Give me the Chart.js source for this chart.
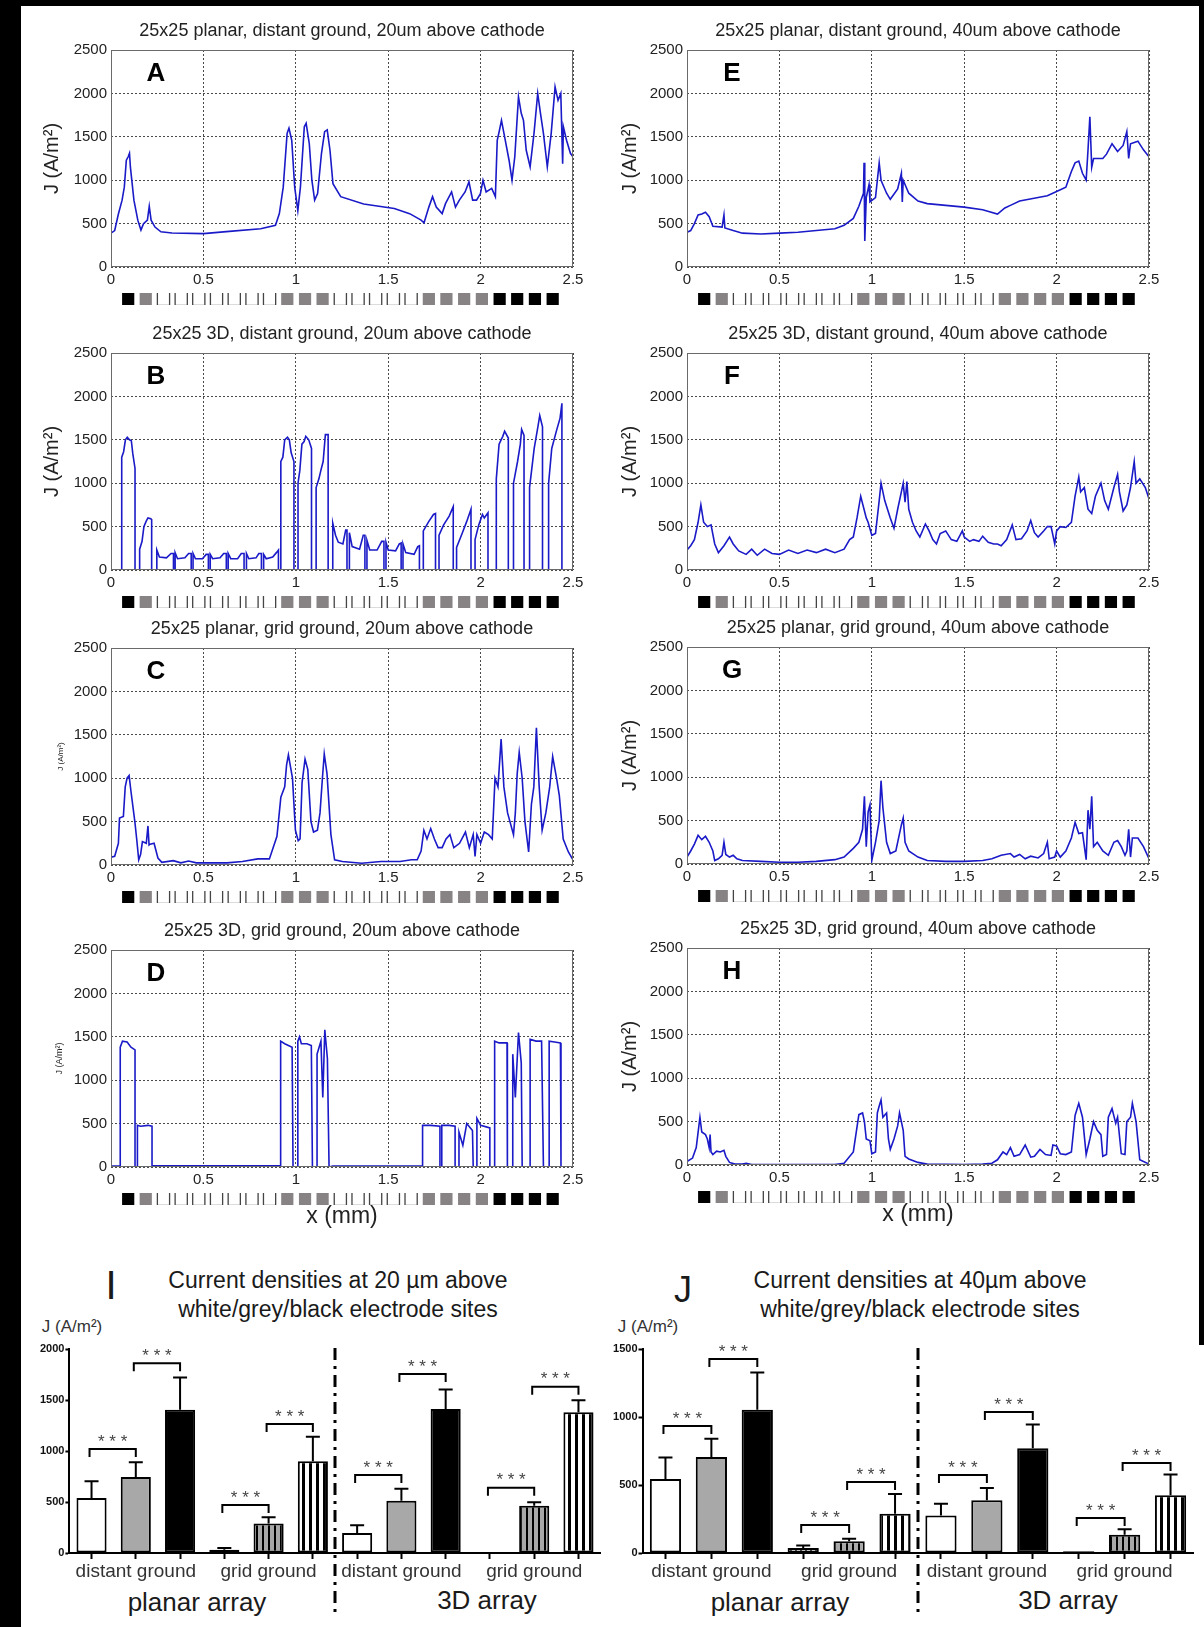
<!DOCTYPE html>
<html>
<head>
<meta charset="utf-8">
<script src="https://cdn.jsdelivr.net/npm/chart.js@4.4.0/dist/chart.umd.min.js"></script>
<style>
  body { margin: 0; background: #fff; width: 1204px; height: 1627px; position: relative; overflow: hidden;
         font-family: "Liberation Sans", Arial, sans-serif; }
  canvas { position: absolute; }
  .t { position: absolute; transform: translate(-50%, -50%); white-space: nowrap; color: #1a1a1a; }
  .edge { position: absolute; background: #000; }
</style>
</head>
<body>
<div class="edge" style="left:0;top:0;width:21px;height:1627px"></div>
<div class="edge" style="left:0;top:0;width:1204px;height:6px"></div>
<div class="edge" style="left:1199px;top:0;width:5px;height:1345px"></div>

<div class="t" style="left:338px;top:1280px;font-size:23px">Current densities at 20 µm above</div>
<div class="t" style="left:338px;top:1309px;font-size:23px">white/grey/black electrode sites</div>
<div class="t" style="left:920px;top:1280px;font-size:23px">Current densities at 40µm above</div>
<div class="t" style="left:920px;top:1309px;font-size:23px">white/grey/black electrode sites</div>
<div class="t" style="left:111px;top:1285px;font-size:40px">I</div>
<div class="t" style="left:683px;top:1290px;font-size:36px">J</div>
<div class="t" style="left:72px;top:1327px;font-size:17px;color:#333">J (A/m²)</div>
<div class="t" style="left:648px;top:1327px;font-size:17px;color:#333">J (A/m²)</div>
<div class="t" style="left:197px;top:1602px;font-size:26px">planar array</div>
<div class="t" style="left:487px;top:1600px;font-size:26px">3D array</div>
<div class="t" style="left:780px;top:1602px;font-size:26px">planar array</div>
<div class="t" style="left:1068px;top:1600px;font-size:26px">3D array</div>

<script>
// ---- data ----
// electrode sites along the line scan (mm) and their kind
const siteX = [0.093, 0.188, 0.284, 0.380, 0.475, 0.571, 0.667, 0.763, 0.858, 0.954, 1.050, 1.145, 1.241,
               1.337, 1.432, 1.528, 1.624, 1.720, 1.815, 1.911, 2.007, 2.103, 2.198, 2.294, 2.390];
const siteKind = ['black', 'grey', 'white', 'white', 'white', 'white', 'white', 'white', 'white', 'grey', 'grey', 'grey',
                  'white', 'white', 'white', 'white', 'white', 'grey', 'grey', 'grey', 'grey', 'black', 'black', 'black', 'black'];
const siteW = 0.066;

// current density J (A/m^2) vs x (mm)
const curveA = [[0,390],[0.02,420],[0.04,610],[0.06,770],[0.072,920],[0.083,1230],[0.093,1270],[0.1,1310],[0.105,1150],[0.124,770],[0.145,540],[0.162,425],[0.176,500],[0.197,540],[0.207,700],[0.217,540],[0.238,460],[0.27,405],[0.33,392],[0.5,385],[0.64,410],[0.81,440],[0.89,480],[0.911,615],[0.932,920],[0.953,1540],[0.963,1600],[0.978,1460],[0.994,920],[1.011,650],[1.025,920],[1.046,1615],[1.056,1655],[1.073,1420],[1.087,1000],[1.102,770],[1.118,845],[1.139,1310],[1.156,1560],[1.17,1580],[1.185,1345],[1.201,960],[1.243,810],[1.367,725],[1.533,675],[1.616,615],[1.678,540],[1.694,510],[1.72,690],[1.74,810],[1.76,690],[1.792,615],[1.81,730],[1.843,865],[1.864,690],[1.885,770],[1.916,865],[1.937,980],[1.957,770],[1.978,770],[1.999,845],[2.013,1000],[2.03,865],[2.06,905],[2.08,810],[2.09,1460],[2.102,1575],[2.113,1690],[2.13,1500],[2.154,1230],[2.17,1000],[2.185,1270],[2.205,1960],[2.22,1770],[2.232,1690],[2.247,1345],[2.268,1155],[2.289,1540],[2.309,2000],[2.324,1770],[2.34,1540],[2.361,1155],[2.382,1540],[2.403,2075],[2.419,1920],[2.434,2000],[2.444,1190],[2.448,1615],[2.465,1460],[2.486,1310],[2.5,1270]];

const curveB = [[0,0],[0.058,0],[0.058,1300],[0.068,1360],[0.078,1500],[0.088,1530],[0.1,1500],[0.11,1490],[0.118,1340],[0.13,1170],[0.13,0],
  [0.155,0],[0.155,240],[0.168,330],[0.178,500],[0.19,560],[0.2,600],[0.215,590],[0.22,580],[0.22,0],
  [0.248,0],[0.248,230],[0.262,150],[0.3,140],[0.325,190],[0.338,190],[0.338,0],
  [0.347,0],[0.347,200],[0.36,130],[0.4,140],[0.42,190],[0.434,190],[0.434,0],
  [0.444,0],[0.444,190],[0.457,130],[0.495,130],[0.515,180],[0.527,180],[0.527,0],
  [0.537,0],[0.537,180],[0.55,130],[0.59,140],[0.61,190],[0.624,190],[0.624,0],
  [0.634,0],[0.634,190],[0.648,130],[0.685,130],[0.705,190],[0.72,190],[0.72,0],
  [0.733,0],[0.733,190],[0.746,130],[0.785,140],[0.8,190],[0.814,190],[0.814,0],
  [0.826,0],[0.826,180],[0.84,130],[0.875,150],[0.895,200],[0.906,230],[0.906,0],
  [0.919,0],[0.919,1250],[0.93,1300],[0.94,1500],[0.955,1530],[0.965,1500],[0.975,1350],[0.99,1250],[0.99,0],
  [1.012,0],[1.012,1000],[1.022,1150],[1.033,1450],[1.045,1480],[1.054,1540],[1.07,1500],[1.085,1400],[1.085,0],
  [1.11,0],[1.11,950],[1.125,1050],[1.136,1150],[1.148,1250],[1.16,1560],[1.175,1560],[1.175,0],
  [1.2,0],[1.2,540],[1.215,400],[1.23,320],[1.255,300],[1.27,460],[1.277,460],[1.277,0],
  [1.29,0],[1.29,430],[1.305,270],[1.345,240],[1.365,400],[1.374,400],[1.374,0],
  [1.385,0],[1.385,340],[1.4,230],[1.44,230],[1.465,330],[1.477,330],[1.477,0],
  [1.488,0],[1.488,320],[1.5,230],[1.54,220],[1.56,300],[1.57,310],[1.57,0],
  [1.58,0],[1.58,300],[1.595,200],[1.64,180],[1.66,270],[1.669,280],[1.669,0],
  [1.69,0],[1.69,450],[1.72,560],[1.745,640],[1.756,650],[1.756,0],
  [1.775,0],[1.775,400],[1.8,520],[1.83,620],[1.852,730],[1.852,0],
  [1.87,0],[1.87,260],[1.9,420],[1.925,560],[1.948,700],[1.948,0],
  [1.97,0],[1.97,350],[1.99,520],[2.01,640],[2.02,600],[2.04,660],[2.04,0],
  [2.085,0],[2.085,1050],[2.1,1450],[2.12,1540],[2.13,1600],[2.15,1520],[2.15,0],
  [2.178,0],[2.178,1000],[2.2,1250],[2.215,1450],[2.222,1620],[2.235,1550],[2.235,0],
  [2.265,0],[2.265,950],[2.29,1400],[2.31,1650],[2.32,1780],[2.335,1650],[2.335,0],
  [2.368,0],[2.368,1000],[2.385,1400],[2.41,1600],[2.43,1750],[2.44,1920],[2.44,0],[2.5,0]];

const curveC = [[0,90],[0.02,100],[0.04,250],[0.046,540],[0.067,560],[0.077,900],[0.087,1000],[0.098,1030],[0.108,850],[0.129,500],[0.139,300],[0.15,60],[0.16,120],[0.17,270],[0.191,250],[0.2,450],[0.206,230],[0.212,240],[0.233,250],[0.254,80],[0.275,30],[0.337,50],[0.378,25],[0.42,45],[0.462,25],[0.628,25],[0.711,40],[0.794,70],[0.857,70],[0.898,330],[0.919,780],[0.94,900],[0.95,1150],[0.96,1270],[0.982,1000],[0.998,400],[1.013,280],[1.023,300],[1.034,950],[1.05,1220],[1.065,1100],[1.082,500],[1.096,380],[1.117,400],[1.131,600],[1.144,1000],[1.154,1280],[1.169,1050],[1.19,350],[1.21,60],[1.252,40],[1.356,20],[1.46,40],[1.564,40],[1.626,60],[1.657,60],[1.678,160],[1.693,400],[1.71,300],[1.73,420],[1.75,300],[1.77,200],[1.792,200],[1.813,300],[1.834,350],[1.855,200],[1.886,250],[1.918,380],[1.939,200],[1.96,350],[1.97,100],[1.98,350],[2.0,250],[2.02,380],[2.043,350],[2.063,300],[2.078,1000],[2.094,900],[2.111,1450],[2.126,900],[2.146,600],[2.178,350],[2.188,600],[2.198,1050],[2.209,1300],[2.225,1000],[2.24,500],[2.26,150],[2.275,700],[2.288,900],[2.302,1580],[2.317,900],[2.333,400],[2.353,600],[2.374,900],[2.39,1250],[2.411,1000],[2.426,800],[2.447,300],[2.475,150],[2.5,60]];

const curveD = [[0,10],[0.05,10],[0.05,1380],[0.062,1450],[0.087,1440],[0.108,1380],[0.13,1350],[0.13,0],[0.143,0],[0.143,480],[0.16,470],[0.2,480],[0.222,470],[0.222,0],[0.23,15],[0.5,15],[0.7,15],[0.918,15],[0.918,1450],[0.94,1420],[0.96,1400],[0.98,1380],[0.985,0],[1.011,0],[1.011,1450],[1.02,1500],[1.03,1420],[1.06,1420],[1.084,1400],[1.09,0],[1.115,0],[1.115,1300],[1.136,1450],[1.146,800],[1.157,1580],[1.171,1250],[1.18,0],[1.2,10],[1.5,10],[1.686,10],[1.686,480],[1.73,480],[1.78,470],[1.78,0],[1.79,0],[1.79,480],[1.83,480],[1.862,470],[1.862,0],[1.883,0],[1.883,400],[1.904,250],[1.925,500],[1.956,420],[1.96,0],[1.98,0],[1.98,560],[2.0,480],[2.05,450],[2.05,0],[2.076,0],[2.076,1450],[2.1,1430],[2.143,1430],[2.145,0],[2.174,0],[2.174,1300],[2.188,800],[2.205,1550],[2.22,1200],[2.225,0],[2.268,0],[2.268,1470],[2.3,1450],[2.33,1450],[2.34,0],[2.371,0],[2.371,1450],[2.4,1440],[2.432,1430],[2.435,0],[2.5,0]];

const curveE = [[0,400],[0.02,420],[0.04,500],[0.06,600],[0.08,610],[0.1,630],[0.12,580],[0.14,470],[0.19,460],[0.2,600],[0.205,450],[0.25,420],[0.3,390],[0.4,380],[0.5,390],[0.6,400],[0.7,420],[0.8,440],[0.85,480],[0.9,560],[0.93,700],[0.955,850],[0.958,1200],[0.962,300],[0.97,800],[0.985,950],[0.99,750],[1.02,800],[1.04,1200],[1.05,1000],[1.08,850],[1.1,780],[1.14,900],[1.16,1080],[1.165,750],[1.17,1000],[1.2,850],[1.25,760],[1.3,730],[1.4,710],[1.5,690],[1.6,660],[1.68,610],[1.72,680],[1.75,710],[1.8,760],[1.85,780],[1.9,800],[1.95,820],[2.0,870],[2.05,920],[2.08,1100],[2.1,1200],[2.12,1220],[2.14,1080],[2.16,1000],[2.17,1350],[2.18,1730],[2.19,1150],[2.2,1250],[2.25,1250],[2.27,1300],[2.3,1420],[2.33,1330],[2.36,1400],[2.38,1560],[2.39,1250],[2.4,1420],[2.44,1450],[2.47,1350],[2.5,1270]];

const curveF = [[0,230],[0.02,280],[0.04,350],[0.06,550],[0.075,750],[0.09,550],[0.11,500],[0.13,520],[0.15,300],[0.17,200],[0.2,280],[0.23,380],[0.25,300],[0.28,220],[0.32,180],[0.35,240],[0.38,170],[0.42,240],[0.46,190],[0.5,180],[0.55,230],[0.6,190],[0.65,230],[0.7,200],[0.75,240],[0.8,200],[0.85,240],[0.88,350],[0.9,380],[0.92,600],[0.94,850],[0.97,600],[0.98,550],[1.0,400],[1.02,420],[1.04,800],[1.05,1000],[1.07,800],[1.1,600],[1.12,480],[1.14,700],[1.16,900],[1.17,1000],[1.18,780],[1.19,1020],[1.2,700],[1.22,550],[1.24,450],[1.26,380],[1.29,530],[1.31,450],[1.33,350],[1.35,300],[1.37,420],[1.4,450],[1.43,350],[1.46,330],[1.49,450],[1.5,380],[1.53,330],[1.55,350],[1.58,330],[1.6,390],[1.63,320],[1.66,300],[1.68,300],[1.7,280],[1.73,350],[1.76,520],[1.78,350],[1.81,360],[1.84,450],[1.86,570],[1.88,430],[1.9,380],[1.93,450],[1.95,500],[1.97,500],[1.99,300],[2.0,450],[2.02,500],[2.05,490],[2.08,550],[2.1,850],[2.12,1070],[2.13,900],[2.15,950],[2.17,700],[2.19,650],[2.21,850],[2.24,1000],[2.26,800],[2.28,700],[2.31,950],[2.33,1100],[2.34,900],[2.36,680],[2.38,750],[2.4,950],[2.42,1250],[2.43,1000],[2.45,1050],[2.48,950],[2.5,820]];

const curveG = [[0,80],[0.02,150],[0.04,230],[0.06,330],[0.08,280],[0.1,320],[0.12,250],[0.14,150],[0.15,40],[0.17,60],[0.19,100],[0.2,250],[0.21,110],[0.23,80],[0.25,100],[0.27,60],[0.3,40],[0.4,30],[0.5,20],[0.6,20],[0.7,30],[0.8,50],[0.85,80],[0.9,180],[0.93,250],[0.95,400],[0.96,780],[0.97,200],[0.98,600],[0.99,680],[1.0,40],[1.02,250],[1.04,500],[1.05,960],[1.06,650],[1.08,250],[1.1,120],[1.13,150],[1.16,450],[1.17,530],[1.18,250],[1.2,150],[1.25,80],[1.3,40],[1.4,30],[1.5,30],[1.6,40],[1.65,60],[1.7,100],[1.75,120],[1.77,80],[1.8,110],[1.83,60],[1.86,90],[1.9,70],[1.93,120],[1.95,250],[1.96,60],[1.99,80],[2.0,150],[2.02,80],[2.05,150],[2.08,300],[2.1,480],[2.12,350],[2.14,360],[2.16,50],[2.17,620],[2.18,400],[2.19,780],[2.2,200],[2.22,250],[2.25,150],[2.28,100],[2.31,250],[2.33,270],[2.35,200],[2.37,100],[2.38,150],[2.39,400],[2.4,80],[2.41,300],[2.44,300],[2.47,200],[2.5,60]];

const curveH = [[0,40],[0.03,80],[0.05,200],[0.07,550],[0.08,380],[0.1,350],[0.11,300],[0.12,200],[0.125,350],[0.13,150],[0.14,120],[0.16,160],[0.18,150],[0.2,170],[0.21,100],[0.23,30],[0.26,10],[0.3,10],[0.32,20],[0.35,5],[0.5,5],[0.8,5],[0.85,20],[0.9,150],[0.93,580],[0.95,600],[0.96,500],[0.97,300],[0.99,280],[1.0,130],[1.02,150],[1.03,600],[1.04,680],[1.05,750],[1.06,550],[1.08,600],[1.09,300],[1.1,180],[1.12,300],[1.14,450],[1.15,600],[1.17,400],[1.18,100],[1.2,70],[1.25,30],[1.3,10],[1.5,5],[1.6,10],[1.65,20],[1.68,60],[1.71,150],[1.73,120],[1.75,200],[1.77,100],[1.8,120],[1.83,230],[1.86,90],[1.88,100],[1.91,180],[1.94,120],[1.97,110],[1.98,230],[2.0,220],[2.02,130],[2.05,120],[2.08,150],[2.1,570],[2.12,710],[2.14,550],[2.16,120],[2.18,300],[2.2,500],[2.22,400],[2.24,350],[2.25,100],[2.27,120],[2.28,550],[2.3,650],[2.32,480],[2.33,550],[2.35,130],[2.37,120],[2.38,500],[2.4,550],[2.41,710],[2.43,500],[2.45,60],[2.5,10]];

// bar charts I (20 um) and J (40 um): white / grey / black sites
const barLabels = ['', 'distant ground', '', '', 'grid ground', '', '', 'distant ground', '', '', 'grid ground', ''];
const meanI = [540, 745, 1405, 33, 288, 900, 196, 513, 1412, 8, 464, 1380];
const sdI = [163, 145, 315, 15, 62, 240, 75, 118, 190, 0, 33, 117];
const bracketI = [1020, 1860, 470, 1265, 765, 1755, 640, 1630];
const meanJ = [544, 706, 1054, 37, 86, 289, 275, 387, 770, 12, 135, 424];
const sdJ = [159, 134, 274, 19, 19, 145, 88, 91, 174, 0, 39, 154];
const bracketJ = [934, 1426, 206, 522, 573, 1037, 257, 662];

// ---- drawing ----
const FONT = '"Liberation Sans", Arial, sans-serif';
Chart.defaults.font.family = FONT;
Chart.defaults.animation = false;
const plain = v => String(v);

function addCanvas(left, top, w, h) {
  const c = document.createElement('canvas');
  c.width = w; c.height = h;
  c.style.left = left + 'px'; c.style.top = top + 'px';
  document.body.appendChild(c);
  return c;
}

const framePlugin = {
  id: 'frame',
  afterDraw(chart) {
    const {ctx, chartArea: a, scales: {x}} = chart;
    const o = chart.config.options.frame;
    ctx.save();
    ctx.strokeStyle = '#6a6a6a'; ctx.lineWidth = 1;
    ctx.strokeRect(a.left + 0.5, a.top + 0.5, a.width - 1, a.height - 1);
    ctx.fillStyle = '#000';
    ctx.font = 'bold 26px ' + FONT;
    ctx.textAlign = 'center'; ctx.textBaseline = 'middle';
    ctx.fillText(o.letter, a.left + 45, a.top + 24);
    // electrode strip under the x axis
    const top = a.bottom + 26, h = 12;
    siteX.forEach((c, i) => {
      const l = x.getPixelForValue(c - siteW / 2), r = x.getPixelForValue(c + siteW / 2);
      const k = siteKind[i];
      if (k === 'white') {
        ctx.strokeStyle = '#dcdcdc'; ctx.lineWidth = 1;
        ctx.beginPath(); ctx.moveTo(l, top + h - 0.5); ctx.lineTo(r, top + h - 0.5); ctx.stroke();
        ctx.strokeStyle = '#444'; ctx.lineWidth = 1.3;
        ctx.beginPath(); ctx.moveTo(l, top); ctx.lineTo(l, top + h); ctx.moveTo(r, top); ctx.lineTo(r, top + h); ctx.stroke();
      } else {
        ctx.fillStyle = k === 'black' ? '#000' : '#878283';
        ctx.fillRect(l, top, r - l, h);
      }
    });
    ctx.restore();
  }
};

const panels = [
  {letter: 'A', title: '25x25 planar, distant ground, 20um above cathode', curve: curveA, col: 0, top: 50, yt: 20},
  {letter: 'B', title: '25x25 3D, distant ground, 20um above cathode', curve: curveB, col: 0, top: 353, yt: 20},
  {letter: 'C', title: '25x25 planar, grid ground, 20um above cathode', curve: curveC, col: 0, top: 648, yt: 8},
  {letter: 'D', title: '25x25 3D, grid ground, 20um above cathode', curve: curveD, col: 0, top: 950, yt: 9, xTitle: true},
  {letter: 'E', title: '25x25 planar, distant ground, 40um above cathode', curve: curveE, col: 1, top: 50, yt: 20},
  {letter: 'F', title: '25x25 3D, distant ground, 40um above cathode', curve: curveF, col: 1, top: 353, yt: 20},
  {letter: 'G', title: '25x25 planar, grid ground, 40um above cathode', curve: curveG, col: 1, top: 647, yt: 20},
  {letter: 'H', title: '25x25 3D, grid ground, 40um above cathode', curve: curveH, col: 1, top: 948, yt: 20, xTitle: true}
];

panels.forEach(p => {
  const left = p.col === 0 ? 22 : 600;
  const w = p.col === 0 ? 578 : 580;
  const axisLeft = p.col === 0 ? 89 : 87;
  const xh = p.xTitle ? 70 : 45;
  const h = 40 + 217 + xh;
  const cv = addCanvas(left, p.top - 40, w, h);
  const ytLine = p.yt * 1.2;
  new Chart(cv, {
    type: 'line',
    data: {
      datasets: [{
        data: p.curve.map(d => ({x: d[0], y: d[1]})),
        borderColor: '#1a1ac8', borderWidth: 1.6, pointRadius: 0, tension: 0, fill: false
      }]
    },
    options: {
      responsive: false,
      frame: {letter: p.letter},
      layout: {padding: {top: 10.2, left: 0, right: w - 462 - axisLeft, bottom: 0}},
      plugins: {
        legend: {display: false},
        tooltip: {enabled: false},
        title: {display: true, text: p.title, fullSize: false, color: '#222',
                font: {size: 18, weight: 'normal'}, padding: {top: 0, bottom: 8.2}}
      },
      scales: {
        x: {
          type: 'linear', min: 0, max: 2.5,
          afterFit(s) { s.height = xh; },
          ticks: {stepSize: 0.5, callback: plain, padding: 4, maxRotation: 0, color: '#222', font: {size: 15}},
          grid: {color: '#4a4a4a', drawTicks: false},
          border: {display: false, dash: [2, 2]},
          title: {display: !!p.xTitle, text: 'x (mm)', color: '#222', font: {size: 23}, padding: {top: 0, bottom: 6.2}}
        },
        y: {
          min: 0, max: 2500,
          afterFit(s) { s.width = axisLeft; },
          ticks: {stepSize: 500, callback: plain, padding: 4, color: '#222', font: {size: 15}},
          grid: {color: '#4a4a4a', drawTicks: false},
          border: {display: false, dash: [2, 2]},
          title: {display: true, text: 'J (A/m²)', color: '#222', font: {size: p.yt},
                  padding: {top: (p.yt >= 20 ? 30 : (p.yt === 8 ? 39 : 38)) - ytLine / 2, bottom: 0}}
        }
      }
    },
    plugins: [framePlugin]
  });
});

// bar fill patterns
function stripes(bg, fg, period, lw) {
  const c = document.createElement('canvas');
  c.width = period; c.height = 4;
  const g = c.getContext('2d');
  g.fillStyle = bg; g.fillRect(0, 0, period, 4);
  g.fillStyle = fg; g.fillRect(0, 0, lw, 4);
  return g.createPattern(c, 'repeat');
}
const gridWhite = stripes('#fff', '#000', 5, 2);
const gridGrey = stripes('#a8a8a8', '#000', 6, 2);
const gridBlack = stripes('#fff', '#000', 7, 3);
const barFills = ['#fff', '#a8a8a8', '#000', gridWhite, gridGrey, gridBlack,
                  '#fff', '#a8a8a8', '#000', gridWhite, gridGrey, gridBlack];

function barExtras(mean, sd, brackets) {
  return {
    id: 'barExtras',
    afterDatasetsDraw(chart) {
      const {ctx, chartArea: a, scales: {x, y}} = chart;
      const bars = chart.getDatasetMeta(0).data;
      ctx.save();
      ctx.strokeStyle = '#000'; ctx.lineWidth = 2;
      sd.forEach((e, i) => {
        if (!e) return;
        const b = bars[i];
        const yt = y.getPixelForValue(mean[i] + e);
        ctx.beginPath();
        ctx.moveTo(b.x, b.y); ctx.lineTo(b.x, yt);
        ctx.moveTo(b.x - 7, yt); ctx.lineTo(b.x + 7, yt);
        ctx.stroke();
      });
      ctx.font = '17px ' + FONT; ctx.fillStyle = '#444';
      ctx.textAlign = 'center'; ctx.textBaseline = 'middle';
      brackets.forEach((v, k) => {
        const i = Math.floor(k / 2) * 3 + (k % 2);
        const x1 = bars[i].x - 2, x2 = bars[i + 1].x, yy = y.getPixelForValue(v);
        ctx.beginPath();
        ctx.moveTo(x1, yy + 8); ctx.lineTo(x1, yy); ctx.lineTo(x2, yy); ctx.lineTo(x2, yy + 8);
        ctx.stroke();
        ctx.fillText('* * *', (x1 + x2) / 2, yy - 7);
      });
      const xd = x.getPixelForValue(5.5);
      ctx.setLineDash([12, 6, 3, 6]); ctx.lineWidth = 3;
      ctx.beginPath(); ctx.moveTo(xd, a.top - 1); ctx.lineTo(xd, chart.height - 15); ctx.stroke();
      ctx.restore();
    }
  };
}

function makeBars(left, w, axisLeft, plotRight, yMax, mean, sd, brackets) {
  const cv = addCanvas(left, 1240, w, 387);
  new Chart(cv, {
    type: 'bar',
    data: {
      labels: barLabels,
      datasets: [{data: mean, backgroundColor: barFills, borderColor: '#000', borderWidth: 2,
                  borderSkipped: false, categoryPercentage: 1, barPercentage: 0.68}]
    },
    options: {
      responsive: false,
      layout: {padding: {top: 109, left: 0, right: w - plotRight, bottom: 0}},
      plugins: {legend: {display: false}, tooltip: {enabled: false}},
      scales: {
        x: {
          afterFit(s) { s.height = 74; },
          ticks: {autoSkip: false, maxRotation: 0, padding: 1.6, color: '#333', font: {size: 19}},
          grid: {offset: false, drawOnChartArea: false, tickLength: 6, tickWidth: 2, tickColor: '#000'},
          border: {color: '#000', width: 2}
        },
        y: {
          min: 0, max: yMax,
          afterFit(s) { s.width = axisLeft; },
          ticks: {stepSize: 500, callback: plain, padding: 1, color: '#111', font: {size: 11, weight: 'bold'}},
          grid: {drawOnChartArea: false, tickLength: 4, tickWidth: 2, tickColor: '#000'},
          border: {color: '#000', width: 2}
        }
      }
    },
    plugins: [barExtras(mean, sd, brackets)]
  });
}

makeBars(22, 585, 47.4, 578.6, 2000, meanI, sdI, bracketI);
makeBars(600, 600, 42.5, 593.5, 1500, meanJ, sdJ, bracketJ);
</script>
</body>
</html>
